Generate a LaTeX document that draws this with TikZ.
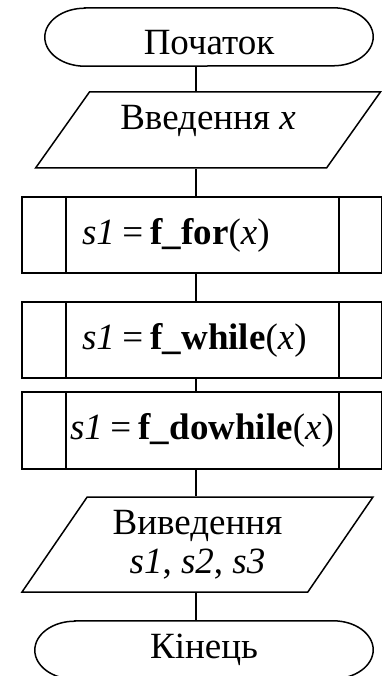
\documentclass[tikz,border=0pt]{standalone}
\usepackage{fontspec}
\setmainfont{Liberation Serif}
\usepackage{tikz}
\usetikzlibrary{shapes.geometric}

\tikzset{
    flowline/.style={line width=1.5pt},
    termbox/.style={minimum height=58pt, inner sep=0pt},
    iobox/.style={draw, line width=1.5pt, trapezium, trapezium stretches=true, inner sep=0pt},
    procbox/.style={draw, line width=1.5pt, minimum width=360pt, inner sep=0pt,
        path picture={
            \draw[line width=1.5pt] ([xshift=44pt]path picture bounding box.north west) -- ([xshift=44pt]path picture bounding box.south west);
            \draw[line width=1.5pt] ([xshift=-43pt]path picture bounding box.north east) -- ([xshift=-43pt]path picture bounding box.south east);
        }},
    padleft/.style={text width=240pt, align=left}
}
\newcommand{\eqgap}{\hspace{0.2em}=\hspace{0.2em}}

\begin{document}
\begin{tikzpicture}[
    x=1pt, y=-1pt,
    every node/.style={font=\fontsize{37}{39}\selectfont, align=center}
]
\useasboundingbox (0,0) rectangle (382,676);

% terminators
\node[termbox, minimum width=328pt, text height=36pt] (start) at (209,37) {Початок};
\node[termbox, minimum width=338pt] (finish) at (204,650) {Кінець};
\foreach \t in {start,finish}
    \draw[flowline] ([xshift=40pt]\t.north west) -- ([xshift=-40pt]\t.north east)
        arc[start angle=90, end angle=-90, x radius=40pt, y radius=29pt]
        -- ([xshift=40pt]\t.south west)
        arc[start angle=270, end angle=90, x radius=40pt, y radius=29pt] -- cycle;

% input / output
\node[iobox, minimum width=346pt, minimum height=76pt, trapezium left angle=51, trapezium right angle=129, text depth=25pt] (input) at (208,130) {Введення \textit{x}};
\node[iobox, minimum width=351pt, minimum height=95pt, trapezium left angle=54, trapezium right angle=126] (output) at (197.5,544.5) {Виведення\\\textit{s1}, \textit{s2}, \textit{s3}};

% subroutine calls
\node[procbox, padleft, minimum height=76pt] (sfor) at (202,235) {\textit{s1}\eqgap\textbf{f\_for}(\textit{x})};
\node[procbox, padleft, minimum height=76pt] (swhile) at (202,340) {\textit{s1}\eqgap\textbf{f\_while}(\textit{x})};
\node[procbox, minimum height=77pt] (sdowhile) at (202,430.5) {\textit{s1}\eqgap\textbf{f\_dowhile}(\textit{x})};

% connectors
\coordinate (spine) at (196,0);
\draw[flowline] (start.south -| spine) -- (input.north -| spine);
\draw[flowline] (input.south -| spine) -- (sfor.north -| spine);
\draw[flowline] (sfor.south -| spine) -- (swhile.north -| spine);
\draw[flowline] (swhile.south -| spine) -- (sdowhile.north -| spine);
\draw[flowline] (sdowhile.south -| spine) -- (output.north -| spine);
\draw[flowline] (output.south -| spine) -- (finish.north -| spine);
\end{tikzpicture}
\end{document}
